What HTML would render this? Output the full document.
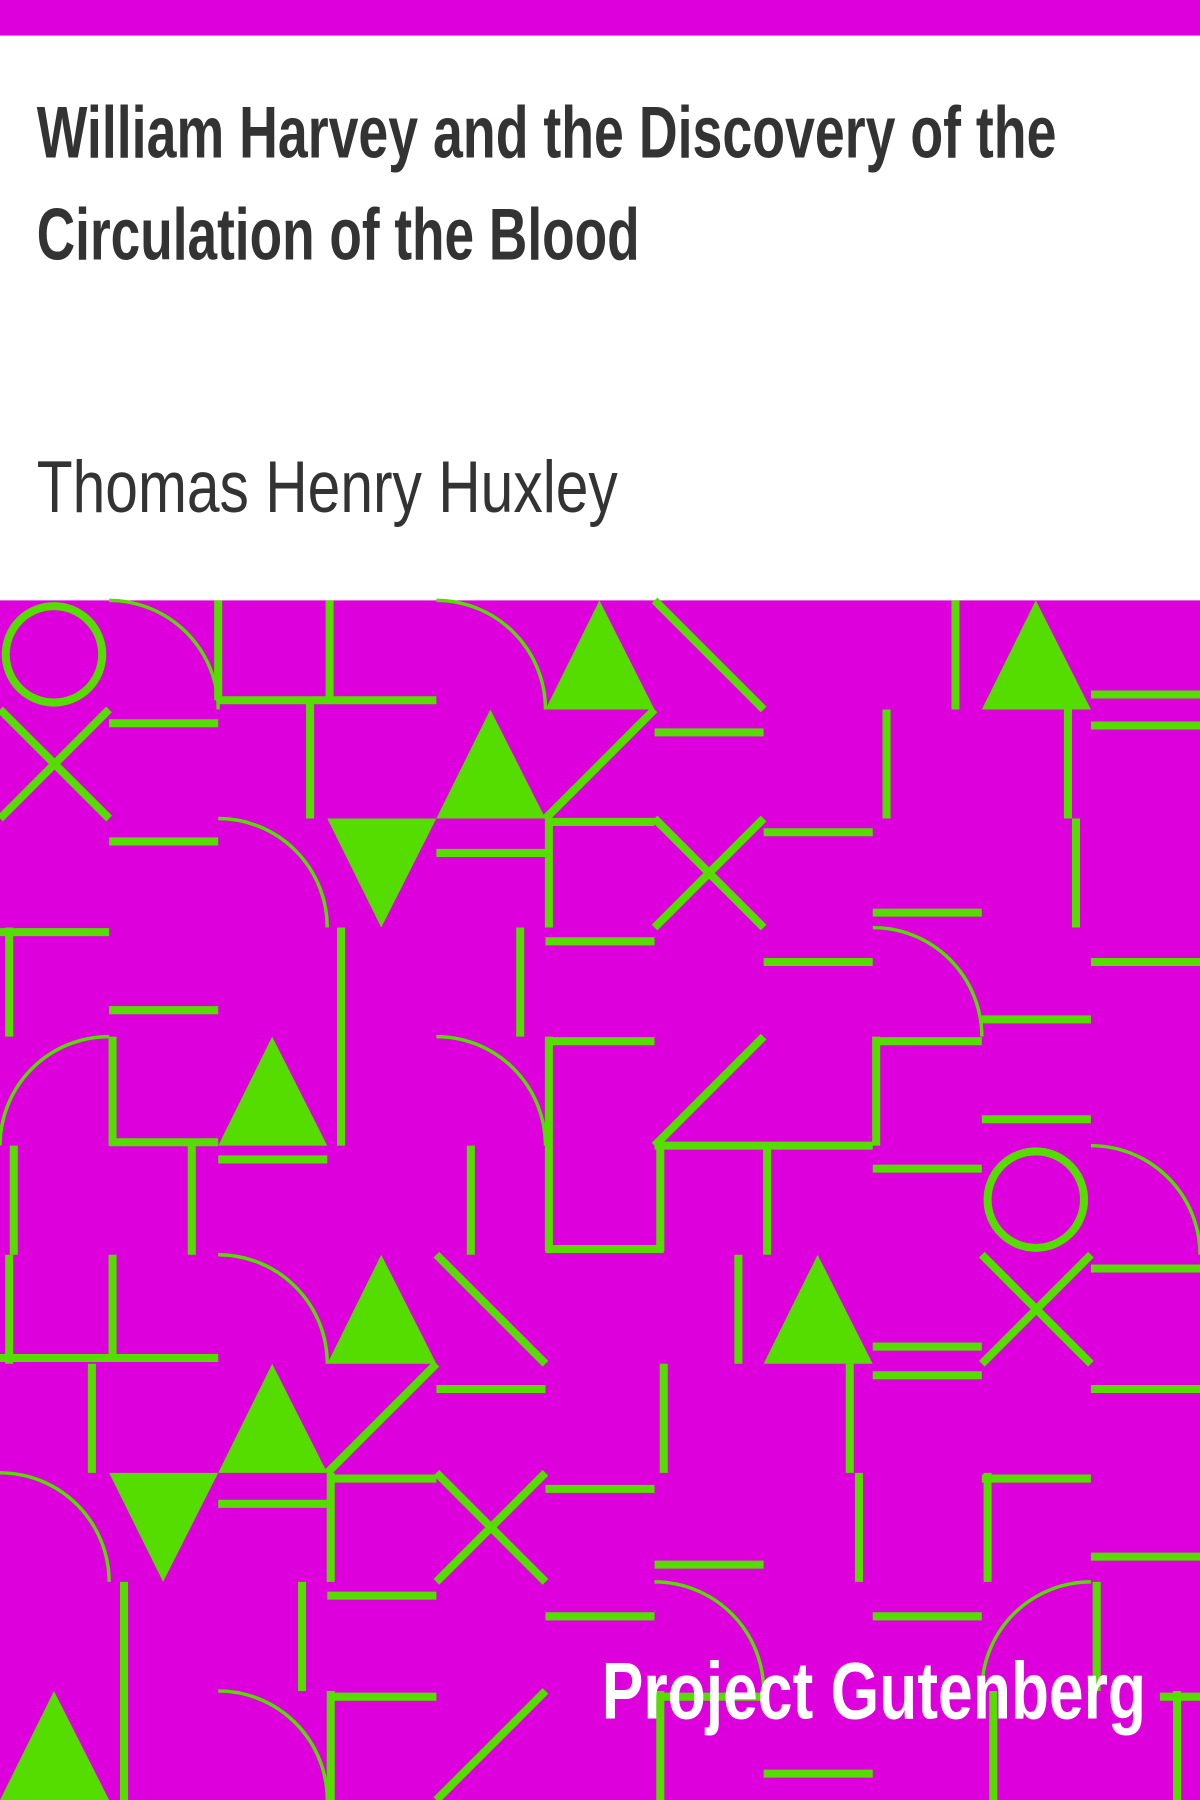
<!DOCTYPE html>
<html><head><meta charset="utf-8"><style>
html,body{margin:0;padding:0;background:#fff;}
svg{display:block;}
</style></head><body>
<svg width="1200" height="1800" viewBox="0 0 1045 1568" preserveAspectRatio="none" xmlns="http://www.w3.org/2000/svg">
<rect x="0" y="0" width="1045" height="31" fill="#dd00dd"/>
<text x="32" y="137" font-family="'Liberation Sans Narrow','Liberation Sans',sans-serif" font-weight="bold" font-size="64" fill="#333" textLength="888" lengthAdjust="spacingAndGlyphs">William Harvey and the Discovery of the</text>
<text x="32" y="226" font-family="'Liberation Sans Narrow','Liberation Sans',sans-serif" font-weight="bold" font-size="64" fill="#333" textLength="525" lengthAdjust="spacingAndGlyphs">Circulation of the Blood</text>
<text x="32" y="446" font-family="'Liberation Sans Narrow','Liberation Sans',sans-serif" font-size="64" fill="#333" textLength="506" lengthAdjust="spacingAndGlyphs">Thomas Henry Huxley</text>
<g>
<rect x="0" y="523" width="1045" height="1045" fill="#dd00dd"/>
<g fill="none" stroke="#55dd00" stroke-width="7">
<!-- row 0 -->
<circle cx="47" cy="570" r="42"/>
<path d="M95 523 A95 95 0 0 1 190 618" stroke-width="3"/>
<line x1="190" y1="523" x2="190" y2="610"/><line x1="190" y1="610" x2="380" y2="610"/>
<line x1="287" y1="523" x2="287" y2="610"/>
<path d="M380 523 A95 95 0 0 1 475 618" stroke-width="3"/>
<line x1="570" y1="523" x2="665" y2="618"/>
<line x1="832" y1="523" x2="832" y2="618"/>
<line x1="950" y1="605" x2="1045" y2="605"/>
<!-- row 1 -->
<line x1="0" y1="618" x2="95" y2="713"/><line x1="95" y1="618" x2="0" y2="713"/>
<line x1="95" y1="630" x2="190" y2="630"/>
<line x1="270" y1="610" x2="270" y2="713"/>
<line x1="570" y1="618" x2="475" y2="713"/>
<line x1="570" y1="638" x2="665" y2="638"/>
<line x1="772" y1="618" x2="772" y2="713"/>
<line x1="930" y1="618" x2="930" y2="713"/>
<line x1="950" y1="632" x2="1045" y2="632"/>
<!-- row 2 -->
<line x1="95" y1="733" x2="190" y2="733"/>
<path d="M190 713 A95 95 0 0 1 285 808" stroke-width="3"/>
<line x1="380" y1="743" x2="475" y2="743"/>
<line x1="478" y1="713" x2="478" y2="808"/><line x1="475" y1="716" x2="570" y2="716"/>
<line x1="570" y1="713" x2="665" y2="808"/><line x1="665" y1="713" x2="570" y2="808"/>
<line x1="665" y1="725" x2="760" y2="725"/>
<line x1="937" y1="713" x2="937" y2="808"/>
<!-- row 3 -->
<line x1="8" y1="808" x2="8" y2="903"/><line x1="0" y1="812" x2="95" y2="812"/>
<line x1="95" y1="880" x2="190" y2="880"/>
<line x1="297" y1="808" x2="297" y2="998"/>
<line x1="453" y1="808" x2="453" y2="903"/>
<line x1="475" y1="820" x2="570" y2="820"/>
<line x1="760" y1="795" x2="855" y2="795"/>
<line x1="665" y1="838" x2="760" y2="838"/>
<path d="M760 808 A95 95 0 0 1 855 903" stroke-width="3"/>
<line x1="950" y1="838" x2="1045" y2="838"/>
<line x1="855" y1="888" x2="950" y2="888"/>
<!-- row 4 -->
<path d="M0 998 A95 95 0 0 1 95 903" stroke-width="3"/>
<line x1="98" y1="903" x2="98" y2="998"/><line x1="95" y1="995" x2="190" y2="995"/>
<path d="M380 903 A95 95 0 0 1 475 998" stroke-width="3"/>
<line x1="478" y1="903" x2="478" y2="1090"/><line x1="475" y1="907" x2="570" y2="907"/>
<line x1="665" y1="903" x2="570" y2="998"/>
<line x1="763" y1="903" x2="763" y2="998"/><line x1="760" y1="907" x2="855" y2="907"/>
<line x1="855" y1="975" x2="950" y2="975"/>
<line x1="570" y1="998" x2="760" y2="998"/>
<!-- row 5 -->
<line x1="12" y1="998" x2="12" y2="1093"/>
<line x1="190" y1="1010" x2="285" y2="1010"/>
<line x1="167" y1="998" x2="167" y2="1093"/>
<line x1="410" y1="998" x2="410" y2="1093"/>
<line x1="575" y1="998" x2="575" y2="1090"/><line x1="475" y1="1088" x2="578" y2="1088"/>
<line x1="668" y1="998" x2="668" y2="1093"/>
<line x1="760" y1="1018" x2="855" y2="1018"/>
<circle cx="902" cy="1045" r="42"/>
<path d="M950 998 A95 95 0 0 1 1045 1093" stroke-width="3"/>
<!-- row 6 -->
<line x1="8" y1="1093" x2="8" y2="1188"/><line x1="98" y1="1093" x2="98" y2="1183"/><line x1="0" y1="1183" x2="190" y2="1183"/>
<path d="M190 1093 A95 95 0 0 1 285 1188" stroke-width="3"/>
<line x1="380" y1="1093" x2="475" y2="1188"/>
<line x1="643" y1="1093" x2="643" y2="1188"/>
<line x1="760" y1="1173" x2="855" y2="1173"/><line x1="760" y1="1198" x2="855" y2="1198"/>
<line x1="855" y1="1093" x2="950" y2="1188"/><line x1="950" y1="1093" x2="855" y2="1188"/>
<line x1="950" y1="1105" x2="1045" y2="1105"/>
<!-- row 7 -->
<line x1="80" y1="1188" x2="80" y2="1283"/>
<line x1="380" y1="1188" x2="285" y2="1283"/>
<line x1="380" y1="1210" x2="475" y2="1210"/>
<line x1="578" y1="1188" x2="578" y2="1283"/>
<line x1="740" y1="1188" x2="740" y2="1283"/>
<line x1="950" y1="1210" x2="1045" y2="1210"/>
<!-- row 8 -->
<path d="M0 1283 A95 95 0 0 1 95 1378" stroke-width="3"/>
<line x1="190" y1="1310" x2="285" y2="1310"/>
<line x1="288" y1="1283" x2="288" y2="1378"/><line x1="285" y1="1288" x2="380" y2="1288"/>
<line x1="380" y1="1283" x2="475" y2="1378"/><line x1="475" y1="1283" x2="380" y2="1378"/>
<line x1="475" y1="1297" x2="570" y2="1297"/>
<line x1="748" y1="1283" x2="748" y2="1378"/>
<line x1="860" y1="1283" x2="860" y2="1378"/><line x1="855" y1="1288" x2="950" y2="1288"/>
<line x1="950" y1="1356" x2="1045" y2="1356"/>
<line x1="570" y1="1363" x2="665" y2="1363"/>
<!-- row 9 -->
<line x1="108" y1="1378" x2="108" y2="1568"/>
<line x1="263" y1="1378" x2="263" y2="1473"/>
<line x1="285" y1="1390" x2="380" y2="1390"/>
<line x1="475" y1="1408" x2="570" y2="1408"/>
<path d="M570 1378 A95 95 0 0 1 665 1473" stroke-width="3"/>
<line x1="760" y1="1408" x2="855" y2="1408"/>
<path d="M855 1473 A95 95 0 0 1 950 1378" stroke-width="3"/>
<line x1="955" y1="1378" x2="955" y2="1473"/>
<!-- row 10 -->
<path d="M190 1473 A95 95 0 0 1 285 1568" stroke-width="3"/>
<line x1="288" y1="1473" x2="288" y2="1568"/><line x1="285" y1="1478" x2="380" y2="1478"/>
<line x1="475" y1="1473" x2="380" y2="1568"/>
<line x1="575" y1="1473" x2="575" y2="1568"/><line x1="570" y1="1478" x2="665" y2="1478"/>
<line x1="665" y1="1545" x2="760" y2="1545"/>
<line x1="865" y1="1473" x2="865" y2="1568"/>
<line x1="1025" y1="1473" x2="1025" y2="1568"/><line x1="1010" y1="1478" x2="1045" y2="1478"/>
</g>
<g fill="#55dd00">
<polygon points="475,618 570,618 522,523"/>
<polygon points="855,618 950,618 902,523"/>
<polygon points="380,713 475,713 427,618"/>
<polygon points="285,713 380,713 332,808"/>
<polygon points="190,998 285,998 237,903"/>
<polygon points="285,1188 380,1188 332,1093"/>
<polygon points="665,1188 760,1188 712,1093"/>
<polygon points="190,1283 285,1283 237,1188"/>
<polygon points="95,1283 190,1283 142,1378"/>
<polygon points="0,1568 95,1568 47,1473"/>
</g>
</g>
<text x="998" y="1497" text-anchor="end" font-family="'Liberation Sans Narrow','Liberation Sans',sans-serif" font-weight="bold" font-size="70" fill="#ffffff" textLength="474" lengthAdjust="spacingAndGlyphs">Project Gutenberg</text>
</svg>
</body></html>
